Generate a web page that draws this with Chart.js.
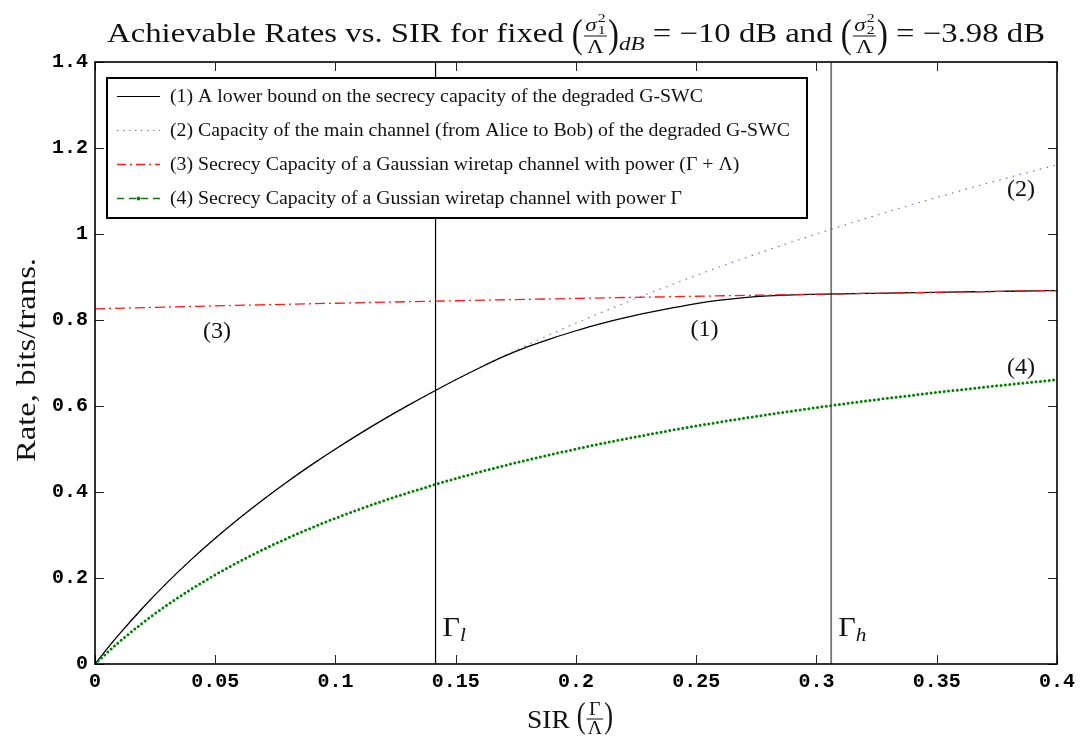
<!DOCTYPE html>
<html><head><meta charset="utf-8">
<script src="https://cdn.jsdelivr.net/npm/chart.js@4.4.1/dist/chart.umd.min.js"></script>
<style>html,body{margin:0;padding:0;background:#fff;}canvas{display:block;}</style>
</head><body>
<canvas id="c" width="1081" height="738"></canvas>
<script>
// ---- data ----
const sir = [0, 0.005, 0.01, 0.02, 0.03, 0.04, 0.05, 0.06, 0.07, 0.08, 0.09, 0.10,
  0.11, 0.12, 0.13, 0.14, 0.15, 0.16, 0.17, 0.18, 0.19, 0.20, 0.21, 0.22, 0.23, 0.24,
  0.25, 0.26, 0.27, 0.28, 0.29, 0.30, 0.31, 0.32, 0.33, 0.34, 0.35, 0.36, 0.37, 0.38, 0.39, 0.40];
// (1) lower bound on the secrecy capacity of the degraded G-SWC
const rateLowerBound = [0, 0.0352, 0.0688, 0.1315, 0.1893, 0.2427, 0.2925, 0.3390, 0.3828, 0.4240,
  0.4630, 0.5000, 0.5352, 0.5688, 0.6008, 0.6315, 0.6610, 0.6890, 0.7152, 0.7380, 0.7575,
  0.7750, 0.7910, 0.8050, 0.8170, 0.8280, 0.8380, 0.8460, 0.8520, 0.8560, 0.8585, 0.8598,
  0.8608, 0.8617, 0.8626, 0.8635, 0.8644, 0.8652, 0.8661, 0.8669, 0.8677, 0.8685];
// (2) capacity of the main channel
const rateMainChannel = [0, 0.0352, 0.0688, 0.1315, 0.1893, 0.2427, 0.2925, 0.3390, 0.3828, 0.4240,
  0.4630, 0.5000, 0.5352, 0.5688, 0.6008, 0.6315, 0.6610, 0.6893, 0.7165, 0.7427, 0.7680,
  0.7925, 0.8161, 0.8390, 0.8612, 0.8828, 0.9037, 0.9240, 0.9438, 0.9630, 0.9817, 1.0000,
  1.0178, 1.0352, 1.0522, 1.0688, 1.0850, 1.1008, 1.1163, 1.1315, 1.1464, 1.1610];
// (3) secrecy capacity, power (Gamma + Lambda)
const sirCoarse = [0, 0.05, 0.10, 0.15, 0.20, 0.25, 0.30, 0.35, 0.40];
const rateWiretapGL = [0.8260, 0.8328, 0.8390, 0.8448, 0.8502, 0.8552, 0.8599, 0.8644, 0.8685];
// (4) secrecy capacity, power Gamma
const rateWiretapG = [0, 0.0262, 0.0510, 0.0963, 0.1371, 0.1739, 0.2075, 0.2382, 0.2665, 0.2925,
  0.3166, 0.3390, 0.3599, 0.3795, 0.3978, 0.4150, 0.4313, 0.4466, 0.4610, 0.4747, 0.4876,
  0.5000, 0.5117, 0.5229, 0.5335, 0.5438, 0.5535, 0.5628, 0.5717, 0.5802, 0.5884, 0.5963,
  0.6039, 0.6112, 0.6182, 0.6250, 0.6316, 0.6378, 0.6439, 0.6498, 0.6555, 0.6610];
const gammaL = 0.1416;
const gammaH = 0.3061;
const xTicks = [0, 0.05, 0.1, 0.15, 0.2, 0.25, 0.3, 0.35, 0.4];
const xTickLabels = ['0', '0.05', '0.1', '0.15', '0.2', '0.25', '0.3', '0.35', '0.4'];
const yTicks = [0, 0.2, 0.4, 0.6, 0.8, 1.0, 1.2, 1.4];
const yTickLabels = ['0', '0.2', '0.4', '0.6', '0.8', '1', '1.2', '1.4'];
const legendLabels = [
  '(1) A lower bound on the secrecy capacity of the degraded G-SWC',
  '(2) Capacity of the main channel (from Alice to Bob) of the degraded G-SWC',
  '(3) Secrecy Capacity of a Gaussian wiretap channel with power (\u0393 + \u039B)',
  '(4) Secrecy Capacity of a Gussian wiretap channel with power \u0393'
];
const curveTags = ['(1)', '(2)', '(3)', '(4)'];

// ---- styling ----
const SERIF = '"Liberation Serif", "Times New Roman", serif';
const MONO = '"Liberation Mono", "Courier New", monospace';
const C_BLACK = '#000000', C_DOT = 'rgba(80,80,170,0.8)', C_RED = 'rgb(255,25,25)', C_GREEN = '#008000';

const xy = (xs, ys) => xs.map((x, i) => ({x: x, y: ys[i]}));

// text layout helpers
const R = (t, f, dy = 0) => ({w(c){c.font = f; return c.measureText(t).width;}, d(c, x, b){c.font = f; c.fillText(t, x, b + dy);}});
const SEQ = (...it) => ({w(c){return it.reduce((s, i) => s + i.w(c), 0);}, d(c, x, b){for (const i of it){i.d(c, x, b); x += i.w(c);}}});
const STK = (...it) => ({w(c){return Math.max(...it.map(i => i.w(c)));}, d(c, x, b){for (const i of it) i.d(c, x, b);}});
const GAP = (g) => ({w(){return g;}, d(){}});
const FRAC = (n, dn, barY, pad = 2, lw = 1) => ({
  w(c){return Math.max(n.w(c), dn.w(c)) + 2 * pad;},
  d(c, x, b){const W = this.w(c); n.d(c, x + (W - n.w(c)) / 2, b); dn.d(c, x + (W - dn.w(c)) / 2, b); c.fillRect(x + 1, b + barY - lw / 2, W - 2, lw);}
});
const PAREN = (ch, F, sy, cy) => ({
  w(c){c.font = F + 'px ' + SERIF; return c.measureText(ch).width;},
  d(c, x, b){c.save(); c.translate(x, b + cy); c.scale(1, sy); c.font = F + 'px ' + SERIF; c.fillText(ch, 0, 0.255 * F); c.restore();}
});
// draw an item horizontally stretched so it spans targetW, centred at cx
function drawStretched(c, item, cx, b, targetW) {
  const w = item.w(c), sx = targetW / w;
  c.save(); c.translate(cx, 0); c.scale(sx, 1); item.d(c, -w / 2, b); c.restore();
}

const decor = {
  id: 'decor',
  beforeDraw(chart) {
    const c = chart.ctx; c.save(); c.fillStyle = '#fff'; c.fillRect(0, 0, chart.width, chart.height); c.restore();
  },
  afterDatasetsDraw(chart) {
    const c = chart.ctx, a = chart.chartArea, xs = chart.scales.x, ys = chart.scales.y;
    c.save();
    // tick marks, inward, on all four sides
    c.strokeStyle = '#222'; c.lineWidth = 1;
    const TL = 9;
    c.beginPath();
    xTicks.forEach(v => {
      const px = Math.round(xs.getPixelForValue(v)) + 0.5;
      c.moveTo(px, a.bottom); c.lineTo(px, a.bottom - TL);
      c.moveTo(px, a.top); c.lineTo(px, a.top + TL);
    });
    yTicks.forEach(v => {
      const py = Math.round(ys.getPixelForValue(v)) + 0.5;
      c.moveTo(a.left, py); c.lineTo(a.left + TL, py);
      c.moveTo(a.right, py); c.lineTo(a.right - TL, py);
    });
    c.stroke();
    // axes box
    c.strokeStyle = '#000'; c.lineWidth = 1.6;
    c.strokeRect(a.left, a.top, a.right - a.left, a.bottom - a.top);

    // curve tags
    c.fillStyle = '#111'; c.textAlign = 'left'; c.textBaseline = 'middle';
    const tagPos = [[0.2534, 0.777], [0.3850, 1.102], [0.0507, 0.772], [0.3850, 0.688]];
    curveTags.forEach((t, i) => drawStretched(c, R(t, '23px ' + SERIF), xs.getPixelForValue(tagPos[i][0]), ys.getPixelForValue(tagPos[i][1]), 28));

    // Gamma_l / Gamma_h labels
    c.textAlign = 'left'; c.textBaseline = 'alphabetic';
    const gLab = (gv, sub) => {
      const x0 = xs.getPixelForValue(gv) + 7, b = ys.getPixelForValue(0.065);
      const it = SEQ(R('\u0393', '27px ' + SERIF), R(sub, 'italic 19px ' + SERIF, 5));
      const w = it.w(c);
      c.save(); c.translate(x0, 0); c.scale(1.12, 1); it.d(c, 0, b); c.restore();
    };
    gLab(gammaL, 'l'); gLab(gammaH, 'h');

    // legend box
    const L = 107, T = 78, W = 700, H = 140;
    c.fillStyle = '#fff'; c.fillRect(L, T, W, H);
    c.strokeStyle = '#000'; c.lineWidth = 2; c.strokeRect(L, T, W, H);
    const rows = [96, 130, 164, 198];
    const styles = [
      {col: C_BLACK, dash: [], w: 1.2},
      {col: C_DOT, dash: [1.5, 4.5], w: 1.2},
      {col: C_RED, dash: [9, 4, 2, 4], w: 1.3},
      {col: C_GREEN, dash: [7, 5], w: 1.3}
    ];
    c.font = '19px ' + SERIF;
    const lsx = 533 / c.measureText(legendLabels[0]).width;
    rows.forEach((ry, i) => {
      const s = styles[i];
      c.strokeStyle = s.col; c.lineWidth = s.w; c.setLineDash(s.dash);
      c.beginPath(); c.moveTo(117, ry + 0.5); c.lineTo(160, ry + 0.5); c.stroke();
      c.setLineDash([]);
      if (i === 3) { c.fillStyle = C_GREEN; c.beginPath(); c.arc(138.5, ry + 0.5, 2, 0, Math.PI * 2); c.fill(); }
      c.fillStyle = '#111'; c.font = '19px ' + SERIF; c.textBaseline = 'middle';
      c.save(); c.translate(170, 0); c.scale(lsx, 1); c.fillText(legendLabels[i], 0, ry + 1); c.restore();
    });
    c.restore();
  },
  afterDraw(chart) {
    const c = chart.ctx, a = chart.chartArea;
    c.save(); c.fillStyle = '#111'; c.textBaseline = 'alphabetic'; c.textAlign = 'left';
    // title
    const S = 27, fN = S + 'px ' + SERIF, fI = 'italic 19px ' + SERIF, f12 = '13px ' + SERIF, fL = '19px ' + SERIF;
    const sigma = k => SEQ(R('\u03C3', fI, -11), GAP(1), STK(R('2', f12, -20), R(k, f12, -8)));
    const lam = R('\u039B', fL, 11);
    const title = SEQ(
      R('Achievable Rates vs. SIR for fixed ', fN),
      PAREN('(', 27, 1.5, -5), FRAC(sigma('1'), lam, -6), PAREN(')', 27, 1.5, -5),
      R('dB', fI, 8),
      R(' = \u221210 dB and ', fN),
      PAREN('(', 27, 1.5, -5), FRAC(sigma('2'), lam, -6), PAREN(')', 27, 1.5, -5),
      R(' = \u22123.98 dB', fN)
    );
    drawStretched(c, title, 576, 42, 938);
    // x-axis title
    const xt = SEQ(R('SIR ', '25px ' + SERIF),
      PAREN('(', 24, 1.45, -10), FRAC(R('\u0393', '18px ' + SERIF, -13), R('\u039B', '18px ' + SERIF, 6), -9),
      PAREN(')', 24, 1.45, -10));
    drawStretched(c, xt, 570, 728, 86);
    // y-axis title
    c.translate(35, 360); c.rotate(-Math.PI / 2);
    drawStretched(c, R('Rate, bits/trans.', '27px ' + SERIF), 0, 0, 204);
    c.restore();
  }
};

new Chart(document.getElementById('c').getContext('2d'), {
  type: 'line',
  data: {
    datasets: [
      {data: xy(sirCoarse, rateWiretapGL), borderColor: C_RED, borderWidth: 1.3, borderDash: [10, 4, 2, 4],
        pointRadius: 0, cubicInterpolationMode: 'monotone', order: 1},
      {data: xy(sir, rateLowerBound), borderColor: C_BLACK, borderWidth: 1.3, pointRadius: 0,
        cubicInterpolationMode: 'monotone', order: 2},
      {data: xy(sir, rateMainChannel), borderColor: C_DOT, borderWidth: 1.2, borderDash: [1.5, 5.5],
        pointRadius: 0, cubicInterpolationMode: 'monotone', order: 3},
      {data: xy(sir, rateWiretapG), borderColor: C_GREEN, borderWidth: 3, borderDash: [0, 4.4],
        borderCapStyle: 'round', pointRadius: 0, cubicInterpolationMode: 'monotone', order: 1},
      {data: [{x: gammaL, y: 0}, {x: gammaL, y: 1.4}], borderColor: '#000', borderWidth: 1.2, pointRadius: 0, order: 4},
      {data: [{x: gammaH, y: 0}, {x: gammaH, y: 1.4}], borderColor: '#777', borderWidth: 1.8, pointRadius: 0, order: 4}
    ]
  },
  options: {
    responsive: false, animation: false, devicePixelRatio: 1,
    layout: {padding: {left: 0, right: 23, top: 62, bottom: 0}},
    plugins: {legend: {display: false}, tooltip: {enabled: false}, title: {display: false}},
    scales: {
      x: {
        type: 'linear', min: 0, max: 0.4,
        grid: {display: false, drawTicks: false}, border: {display: false},
        afterBuildTicks: s => { s.ticks = xTicks.map(v => ({value: v})); },
        afterFit: s => { s.height = 74; },
        ticks: {callback: (v, i) => xTickLabels[i], font: {family: MONO, size: 20, weight: 'bold'}, color: '#000',
          padding: 6, maxRotation: 0, autoSkip: false}
      },
      y: {
        type: 'linear', min: 0, max: 1.4,
        grid: {display: false, drawTicks: false}, border: {display: false},
        afterBuildTicks: s => { s.ticks = yTicks.map(v => ({value: v})); },
        afterFit: s => { s.width = 95; },
        ticks: {callback: (v, i) => yTickLabels[i], font: {family: MONO, size: 20, weight: 'bold'}, color: '#000',
          padding: 7, autoSkip: false}
      }
    }
  },
  plugins: [decor]
});
</script>
</body></html>
